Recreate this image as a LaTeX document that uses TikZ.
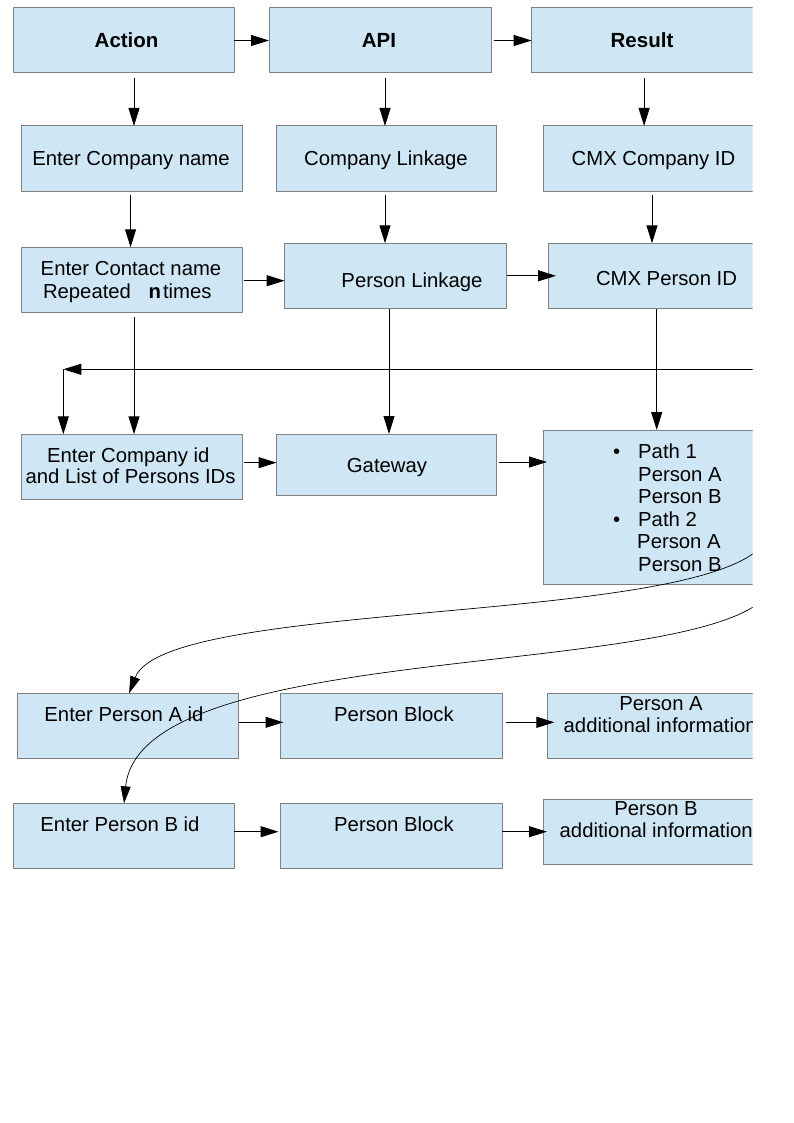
\documentclass[tikz,border=0pt]{standalone}
\usepackage{fontspec}
\setmainfont{Liberation Sans}
\usetikzlibrary{arrows.meta}
\definecolor{boxfill}{RGB}{207,231,245}
\definecolor{boxline}{RGB}{128,128,128}
\begin{document}
\begin{tikzpicture}[x=1pt,y=-1pt,
  box/.style={draw=boxline, fill=boxfill, line width=1pt, inner sep=0pt, outer sep=0pt},
  txt/.style={inner sep=0pt, font=\fontsize{20.3}{24}\selectfont, anchor=base},
  hd/.style={inner sep=0pt, font=\fontsize{20.5}{24}\selectfont\bfseries, anchor=base},
  arr/.style={line width=1pt, -{Triangle[length=18pt,width=11pt]}},
  carr/.style={line width=0.7pt, -{Triangle[length=17pt,width=10pt]}}]
\useasboundingbox (0,0) rectangle (794,1123);
\begin{scope}
\clip (0,0) rectangle (752.5,1123);
% boxes
\node[box, minimum width=221pt, minimum height=65pt] (action) at (123.5,40.5) {};
\node[box, minimum width=222pt, minimum height=65pt] (api) at (380,40.5) {};
\node[box, minimum width=222pt, minimum height=65pt] (result) at (642.6,40.5) {};
\node[box, minimum width=221.5pt, minimum height=65.5pt] (ecn) at (131.75,158.75) {};
\node[box, minimum width=220.2pt, minimum height=65.5pt] (cl) at (386.6,158.75) {};
\node[box, minimum width=222pt, minimum height=65.5pt] (cci) at (654,158.75) {};
\node[box, minimum width=221.5pt, minimum height=65pt] (ecn2) at (131.75,279.8) {};
\node[box, minimum width=221.4pt, minimum height=65pt] (pl) at (395.3,275.8) {};
\node[box, minimum width=222pt, minimum height=65pt] (cpi) at (659,275.8) {};
\node[box, minimum width=221.5pt, minimum height=64.7pt] (eci) at (131.75,466.65) {};
\node[box, minimum width=220.2pt, minimum height=61.3pt] (gw) at (386.6,464.65) {};
\node[box, minimum width=222pt, minimum height=154.3pt] (paths) at (654,507.15) {};
\node[box, minimum width=220.8pt, minimum height=65pt] (pa1) at (128.1,725.8) {};
\node[box, minimum width=221.8pt, minimum height=65pt] (pb1) at (391.4,725.8) {};
\node[box, minimum width=222pt, minimum height=65pt] (pai) at (658,725.8) {};
\node[box, minimum width=220.7pt, minimum height=65pt] (pbid) at (124,835.8) {};
\node[box, minimum width=221.8pt, minimum height=65pt] (pb2) at (391.4,835.5) {};
\node[box, minimum width=222pt, minimum height=65pt] (pbi) at (654,831.8) {};
% texts
\node[hd] (tAction) at (126.6,47.8) {Action};
\node[hd] (tAPI) at (379,47.8) {API};
\node[hd] (tResult) at (642,47.8) {Result};
\node[txt] (tecn) at (131,165.3) {Enter Company name};
\node[txt] (tcl) at (386,165.3) {Company Linkage};
\node[txt] (tcci) at (653.5,165.3) {CMX Company ID};
\node[txt] (tecn2a) at (131,275.5) {Enter Contact name};
\node[txt] (tecn2b) at (127.3,298.5) {Repeated\hspace{12pt} \textbf{n}\hspace{2pt}times};
\node[txt] (tpl) at (412,287) {Person Linkage};
\node[txt] (tcpi) at (666.5,285) {CMX Person ID};
\node[txt] (tecia) at (128.3,462) {Enter Company id};
\node[txt] (tecib) at (130.6,483.7) {and List of Persons IDs};
\node[txt] (tgw) at (387,472.5) {Gateway};
\node[txt, anchor=base west] (tp1) at (638,458.5) {\llap{\textbullet\hspace{18pt}}Path 1};
\node[txt, anchor=base west] (tp2) at (638,481) {Person A};
\node[txt, anchor=base west] (tp3) at (638,503.5) {Person B};
\node[txt, anchor=base west] (tp4) at (638,526) {\llap{\textbullet\hspace{18pt}}Path 2};
\node[txt, anchor=base west] (tp5) at (637,548.5) {Person A};
\node[txt, anchor=base west] (tp6) at (638,571) {Person B};
\node[txt] (tpa1) at (124,721) {Enter Person A id};
\node[txt] (tpb1) at (394,721) {Person Block};
\node[txt] (tpaia) at (661,710) {Person A};
\node[txt, anchor=base west] (tpaib) at (563.5,732.5) {additional information};
\node[txt] (tpbid) at (120,831) {Enter Person B id};
\node[txt] (tpb2) at (394,831) {Person Block};
\node[txt] (tpbia) at (656,815.5) {Person B};
\node[txt, anchor=base west] (tpbib) at (559.5,837.5) {additional information};
% horizontal arrows
\draw[arr] (action.east) -- (api.west);
\draw[arr] ([xshift=2.7pt]api.east) -- (result.west);
\draw[arr] ([xshift=1pt,yshift=-0.9pt]ecn2.east) -- ([yshift=-0.9pt]ecn2.east -| pl.west);
\draw[arr, shorten >=-8pt] ([xshift=1pt]pl.east) -- (pl.east -| cpi.west);
\draw[arr] ([xshift=1pt,yshift=4pt]eci.east) -- ([yshift=4pt]eci.east -| gw.west);
\draw[arr, shorten >=-4pt] ([xshift=2pt,yshift=2.65pt]gw.east) -- ([yshift=2.65pt]gw.east -| paths.west);
\draw[arr, shorten >=-3pt] ([xshift=0.5pt,yshift=3.5pt]pa1.east) -- ([yshift=3.5pt]pa1.east -| pb1.west);
\draw[arr, shorten >=-7.4pt] ([xshift=3.7pt,yshift=3.5pt]pb1.east) -- ([yshift=3.5pt]pb1.east -| pai.west);
\draw[arr, shorten >=2pt] ([yshift=4.1pt]pbid.east) -- ([yshift=4.1pt]pbid.east -| pb2.west);
\draw[arr, shorten >=-4pt] ([yshift=3.8pt]pb2.east) -- ([yshift=3.8pt]pb2.east -| pbi.west);
% vertical arrows
\draw[arr] ([xshift=10.5pt,yshift=-5pt]action.south) -- ([xshift=10.5pt]action.south |- ecn.north);
\draw[arr] ([xshift=5pt,yshift=-5pt]api.south) -- ([xshift=5pt]api.south |- cl.north);
\draw[arr] ([xshift=1.5pt,yshift=-5pt]result.south) -- ([xshift=1.5pt]result.south |- cci.north);
\draw[arr] ([xshift=-1.2pt,yshift=-3.5pt]ecn.south) -- ([xshift=-1.2pt]ecn.south |- ecn2.north);
\draw[arr] ([xshift=-1.6pt,yshift=-3.5pt]cl.south) -- ([xshift=-1.6pt]cl.south |- pl.north);
\draw[arr] ([xshift=-2pt,yshift=-3.5pt]cci.south) -- ([xshift=-2pt]cci.south |- cpi.north);
\draw[arr] ([xshift=2.25pt,yshift=-4.7pt]ecn2.south) -- ([xshift=2.25pt]ecn2.south |- eci.north);
\draw[arr] ([xshift=-6.3pt,yshift=-0.7pt]pl.south) -- ([xshift=-6.3pt]pl.south |- gw.north);
\draw[arr] ([xshift=-2.3pt,yshift=-0.7pt]cpi.south) -- ([xshift=-2.3pt]cpi.south |- paths.north);
% return line
\coordinate (backR) at (800,369.3);
\coordinate (backL) at (63.3,369.3);
\draw[arr] (backR) -- (backL);
\draw[arr] (backL) -- (backL |- eci.north);
% curves
\coordinate (c1s) at (760,548);
\coordinate (c2s) at (765,598);
\draw[carr] (c1s) .. controls (680,625) and (165,600) .. ([xshift=1pt]pa1.north);
\draw[carr] (c2s) .. controls (680,680) and (140,640) .. (pbid.north);
\end{scope}
\end{tikzpicture}
\end{document}
